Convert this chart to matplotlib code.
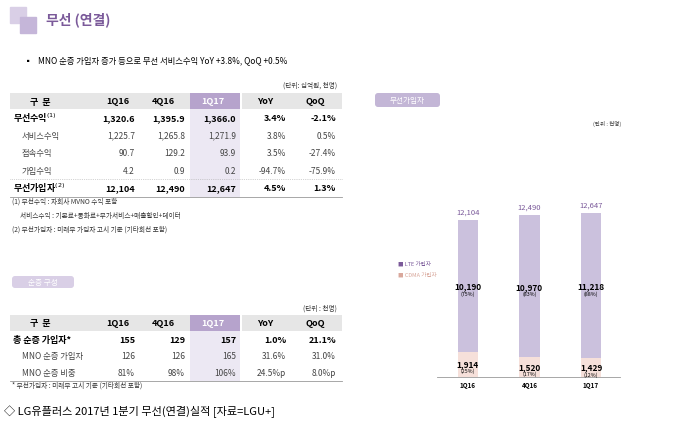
import matplotlib
matplotlib.use("Agg")
import matplotlib.pyplot as plt
from matplotlib.patches import Rectangle, FancyBboxPatch

plt.rcParams['font.family'] = ['Noto Sans CJK KR', 'DejaVu Sans']

# ---- data ----
quarters = ["1Q16", "4Q16", "1Q17"]
lte = [10190, 10970, 11218]
cdma = [1914, 1520, 1429]
totals = [12104, 12490, 12647]
lte_pct = ["(75%)", "(83%)", "(88%)"]
cdma_pct = ["(25%)", "(17%)", "(12%)"]

t1_cols = ["구  분", "1Q16", "4Q16", "1Q17", "YoY", "QoQ"]
t1_rows = [
    ("무선수익$^{(1)}$", ["1,320.6", "1,395.9", "1,366.0", "3.4%", "-2.1%"], True),
    ("서비스수익", ["1,225.7", "1,265.8", "1,271.9", "3.8%", "0.5%"], False),
    ("접속수익", ["90.7", "129.2", "93.9", "3.5%", "-27.4%"], False),
    ("가입수익", ["4.2", "0.9", "0.2", "-94.7%", "-75.9%"], False),
    ("무선가입자$^{(2)}$", ["12,104", "12,490", "12,647", "4.5%", "1.3%"], True),
]
t2_rows = [
    ("총 순증 가입자*", ["155", "129", "157", "1.0%", "21.1%"], True),
    ("MNO 순증 가입자", ["126", "126", "165", "31.6%", "31.0%"], False),
    ("MNO 순증 비중", ["81%", "98%", "106%", "24.5%p", "8.0%p"], False),
]

PURPLE = "#7b5a9a"
HEAD = "#e6e6e6"
HL = "#b6a3cc"
COL = "#ece8f3"
LTE_C = "#cbc1dd"
CDMA_C = "#f6e0da"

fig = plt.figure(figsize=(6.8, 4.27), dpi=100)
bg = fig.add_axes([0, 0, 1, 1])
bg.set_xlim(0, 680)
bg.set_ylim(427, 0)
bg.axis("off")

# title
bg.add_patch(Rectangle((10, 8), 16, 16, color="#d9cfe6"))
bg.add_patch(Rectangle((20, 18), 16, 16, color="#c5b6d9"))
bg.text(46, 20, "무선 (연결)", fontsize=10, color=PURPLE, fontweight="bold", va="center")
bg.text(24, 61, "▪   MNO 순증 가입자 증가 등으로 무선 서비스수익 YoY +3.8%, QoQ +0.5%",
        fontsize=6, va="center")

col_right = [135, 185, 236, 286, 336]
col_center = [118, 163, 213, 265, 315]


def draw_table(cols, rows, y_head, row_h, unit, unit_y, foot, foot_y):
    bg.text(337, unit_y, unit, fontsize=4.8, ha="right", va="center", color="#333333")
    bg.add_patch(Rectangle((10, y_head - 8), 180, 16, color=HEAD, lw=0))
    bg.add_patch(Rectangle((190, y_head - 8), 50, 16, color=HL, lw=0))
    bg.add_patch(Rectangle((242, y_head - 8), 100, 16, color=HEAD, lw=0))
    top = y_head + 8
    bottom = y_head + 8 + row_h * len(rows)
    bg.add_patch(Rectangle((190, top), 50, bottom - top, color=COL, lw=0))
    bg.text(40, y_head, cols[0], fontsize=6.5, fontweight="bold", ha="center", va="center")
    for i, c in enumerate(cols[1:]):
        bg.text(col_center[i], y_head, c, fontsize=6.5, fontweight="bold", ha="center",
                va="center", color="white" if c == "1Q17" else "black")
    for r, (lab, vals, bold) in enumerate(rows):
        y = top + row_h * (r + 0.5)
        w = "bold" if bold else "normal"
        fs = 6.5 if bold else 6
        c = "black" if bold else "#444444"
        bg.text(13 if bold else 22, y, lab, fontsize=fs, fontweight=w, va="center", color=c)
        for i, v in enumerate(vals):
            bg.text(col_right[i], y, v, fontsize=fs, fontweight=w, ha="right", va="center", color=c)
    bg.plot([10, 342], [bottom, bottom], color="#999999", lw=0.6)
    for j, f in enumerate(foot):
        bg.text(12 if not f.startswith(" ") else 20, foot_y + j * 14, f.strip(), fontsize=4.8,
                va="center", color="#333333")


draw_table(t1_cols, t1_rows, 102, 17.5, "(단위: 십억원, 천명)", 86,
           ["(1) 무선수익 : 자회사 MVNO 수익 포함", "  서비스수익 : 기본료+통화료+부가서비스+매출할인+데이터",
            "(2) 무선가입자 : 미래부 가입자 고시 기준 (기타회선 포함)"], 202)
bg.plot([10, 342], [180, 180], color="#aaaaaa", lw=0.5, ls=":")

bg.add_patch(FancyBboxPatch((12, 277), 62, 12, boxstyle="round,pad=0,rounding_size=3",
                            color="#d9cfe6", lw=0))
bg.text(43, 283, "순증 구성", fontsize=5.5, color="white", ha="center", va="center")
draw_table(t1_cols, t2_rows, 324, 16.5, "(단위 : 천명)", 309,
           ["* 무선가입자 : 미래부 고시 기준 (기타회선 포함)"], 386)

bg.text(4, 412, "◇ LG유플러스 2017년 1분기 무선(연결)실적 [자료=LGU+]", fontsize=8, va="center")

# right panel header
bg.add_patch(FancyBboxPatch((375, 94), 65, 14, boxstyle="round,pad=0,rounding_size=3",
                            color="#c3b6d6", lw=0))
bg.text(407, 101, "무선가입자", fontsize=5.5, color="white", ha="center", va="center")
bg.text(621, 124, "(단위 : 천명)", fontsize=4, ha="right", va="center", color="#333333")
bg.text(398, 264, "■ LTE 가입자", fontsize=4, color=PURPLE, va="center")
bg.text(398, 275, "■ CDMA 가입자", fontsize=4, color="#d9a89c", va="center")

# bar chart
ax = fig.add_axes([437 / 680, 1 - 378 / 427, 183 / 680, 228 / 427])
x = list(range(len(quarters)))
ax.bar(x, cdma, width=0.33, color=CDMA_C)
ax.bar(x, lte, width=0.33, bottom=cdma, color=LTE_C)
ax.set_xlim(-0.5, 2.47)
ax.set_ylim(0, 17580)
for i in x:
    ax.text(i, totals[i] + 500, f"{totals[i]:,}", ha="center", fontsize=5.5, color=PURPLE)
    ax.text(i, cdma[i] + lte[i] * 0.5, f"{lte[i]:,}", ha="center", va="center",
            fontsize=6, fontweight="bold")
    ax.text(i, cdma[i] + lte[i] * 0.5 - 550, lte_pct[i], ha="center", va="center", fontsize=3.8)
    ax.text(i, cdma[i] * 0.55, f"{cdma[i]:,}", ha="center", va="center", fontsize=6, fontweight="bold")
    ax.text(i, cdma[i] * 0.55 - 550, cdma_pct[i], ha="center", va="center", fontsize=3.8)
ax.set_xticks(x)
ax.set_xticklabels(quarters, fontsize=4.5, fontweight="bold")
ax.tick_params(length=0, pad=3)
ax.set_yticks([])
for s in ["top", "right", "left"]:
    ax.spines[s].set_visible(False)
ax.spines["bottom"].set_color("#999999")
ax.spines["bottom"].set_linewidth(0.6)
ax.patch.set_alpha(0)

fig.savefig("out.png", dpi=100)
